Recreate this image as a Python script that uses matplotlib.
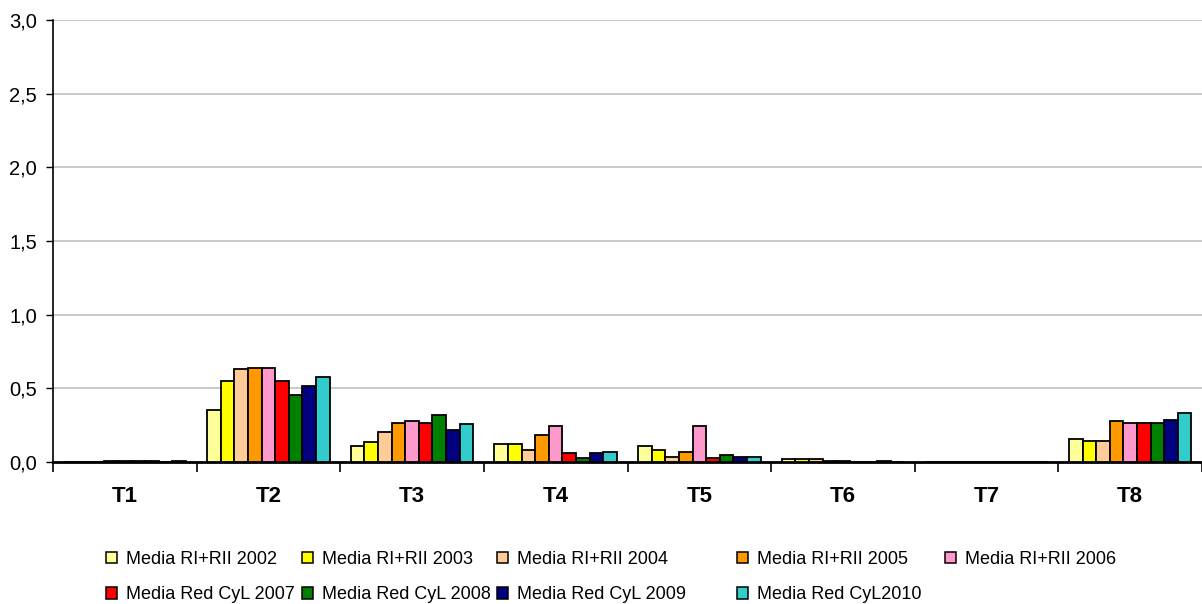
import matplotlib.pyplot as plt
import numpy as np
from matplotlib.patches import Patch

plt.rcParams["font.family"] = ["Liberation Sans", "DejaVu Sans"]

categories = ["T1", "T2", "T3", "T4", "T5", "T6", "T7", "T8"]
series_names = [
    "Media RI+RII 2002", "Media RI+RII 2003", "Media RI+RII 2004",
    "Media RI+RII 2005", "Media RI+RII 2006", "Media Red CyL 2007",
    "Media Red CyL 2008", "Media Red CyL 2009", "Media Red CyL2010",
]
colors = ["#FFFF99", "#FFFF00", "#FFCC99", "#FF9900", "#FF99CC",
          "#FF0000", "#008000", "#000080", "#33CCCC"]

# one list per series, values for T1..T8
v2002 = [0.000, 0.351, 0.110, 0.120, 0.107, 0.020, 0.0, 0.156]
v2003 = [0.000, 0.553, 0.134, 0.120, 0.082, 0.020, 0.0, 0.143]
v2004 = [0.000, 0.629, 0.206, 0.082, 0.032, 0.020, 0.0, 0.145]
v2005 = [0.008, 0.640, 0.267, 0.182, 0.070, 0.006, 0.0, 0.281]
v2006 = [0.008, 0.640, 0.281, 0.243, 0.243, 0.006, 0.0, 0.267]
v2007 = [0.008, 0.553, 0.267, 0.059, 0.029, 0.000, 0.0, 0.267]
v2008 = [0.008, 0.452, 0.320, 0.029, 0.046, 0.000, 0.0, 0.267]
v2009 = [0.000, 0.516, 0.220, 0.059, 0.034, 0.006, 0.0, 0.283]
v2010 = [0.008, 0.578, 0.258, 0.070, 0.034, 0.000, 0.0, 0.330]
values = [v2002, v2003, v2004, v2005, v2006, v2007, v2008, v2009, v2010]

fig = plt.figure(figsize=(12.02, 6.04), dpi=100)
ax = fig.add_axes([53 / 1202, 142 / 604, 1149 / 1202, 442 / 604])

x = np.arange(len(categories))
w = 0.0947
n = len(values)
for i, (vals, col) in enumerate(zip(values, colors)):
    ax.bar(x + (i - (n - 1) / 2) * w, vals, width=w, color=col,
           edgecolor="black", linewidth=1.3, zorder=3)

ax.set_xlim(-0.5, len(categories) - 0.5)
ax.set_ylim(0, 3.0)
yt = np.arange(0, 3.01, 0.5)
ax.set_yticks(yt)
ax.set_yticklabels([f"{t:.1f}".replace(".", ",") for t in yt], fontsize=14.5)
ax.yaxis.grid(True, color="#C0C0C0", linewidth=1.2, zorder=0)
ax.tick_params(axis="y", length=5, width=1, direction="out", pad=6.5)

ax.set_xticks(np.arange(-0.5, len(categories), 1.0))
ax.set_xticklabels([])
ax.set_xticks(x, minor=True)
ax.set_xticklabels(categories, minor=True, fontsize=16, fontweight="bold")
ax.tick_params(axis="x", which="major", length=7, width=1.2, direction="out")
ax.tick_params(axis="x", which="minor", length=0, pad=17.5)

for s in ["top", "right"]:
    ax.spines[s].set_visible(False)
ax.spines["left"].set_linewidth(1.2)
ax.spines["bottom"].set_linewidth(2)

# legend: five columns, entries k and k+5 stacked, columns at Excel-like spots
col_x = [106, 302, 497, 737, 945]
for c, cx in enumerate(col_x):
    idx = [k for k in (c, c + 5) if k < n]
    hs = [Patch(facecolor=colors[k], edgecolor="black", linewidth=1.1) for k in idx]
    fig.legend(hs, [series_names[k] for k in idx], loc="upper left",
               bbox_to_anchor=(cx / 1202, 1 - 551 / 604),
               frameon=False, fontsize=13, handlelength=0.6, handleheight=0.6,
               handletextpad=0.5, labelspacing=1.02,
               borderaxespad=0, borderpad=0)

fig.savefig("out.png", dpi=100, facecolor="white")
